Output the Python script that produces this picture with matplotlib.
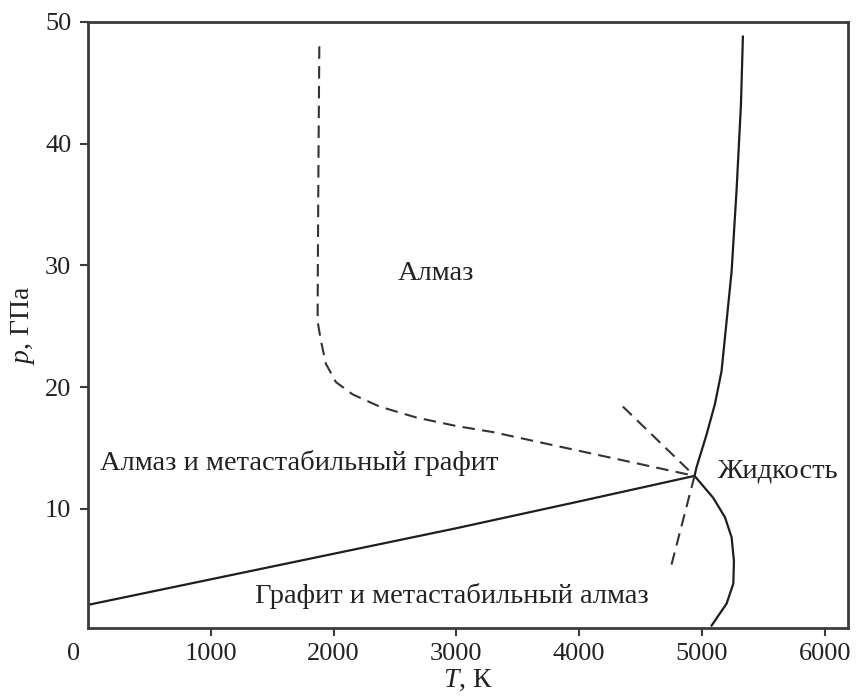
import numpy as np
import matplotlib
matplotlib.use("Agg")
import matplotlib.pyplot as plt
import matplotlib.transforms as mtransforms

plt.rcParams["font.family"] = ["Liberation Serif", "DejaVu Serif"]
plt.rcParams["mathtext.fontset"] = "custom"
plt.rcParams["mathtext.it"] = "Liberation Serif:italic"
plt.rcParams["mathtext.rm"] = "Liberation Serif"

# ── phase boundaries (T in K, p in GPa) ─────────────────────────────────────
# graphite / diamond equilibrium line up to the triple point
gd_T = [0, 1000, 2000, 3000, 4000, 4940]
gd_p = [2.1, 4.2, 6.3, 8.4, 10.6, 12.7]

# diamond melting line (above triple point)
dm_T = [4940, 4956, 5038, 5106, 5160, 5201, 5242, 5283, 5318, 5334]
dm_p = [12.7, 13.4, 16.1, 18.6, 21.3, 25.4, 29.5, 36.3, 43.2, 48.8]

# graphite melting line (below triple point)
gm_T = [4940, 5092, 5188, 5242, 5261, 5256, 5201, 5133, 5079]
gm_p = [12.7, 10.9, 9.3, 7.65, 5.7, 3.85, 2.2, 1.2, 0.4]

# metastable extensions of melting lines
ext_up_T = [4356, 4940]
ext_up_p = [18.4, 12.7]
ext_dn_T = [4940, 4747]
ext_dn_p = [12.7, 5.2]

# kinetic boundary of metastable graphite (dashed)
kin_T = [1884, 1878, 1872, 1870, 1897, 1938, 2020, 2155, 2374, 2673, 2999, 3297, 4940]
kin_p = [48.0, 40.0, 30.0, 25.4, 23.8, 21.9, 20.4, 19.4, 18.4, 17.5, 16.8, 16.3, 12.7]

x_ticks = [0, 1000, 2000, 3000, 4000, 5000, 6000]
y_ticks = [10, 20, 30, 40, 50]

LINE = "#1e1e1e"
SPINE = "#3c3c3c"
TXT = "#222222"

fig = plt.figure(figsize=(8.57, 6.96), dpi=100)
ax = fig.add_axes([0.1027, 0.0977, 0.8868, 0.8707])

ax.plot(gd_T, gd_p, color=LINE, lw=1.6, solid_joinstyle="round")
ax.plot(dm_T, dm_p, color=LINE, lw=1.6, solid_joinstyle="round")
ax.plot(gm_T, gm_p, color=LINE, lw=1.6, solid_joinstyle="round")
for tt, pp in [(ext_up_T, ext_up_p), (ext_dn_T, ext_dn_p), (kin_T, kin_p)]:
    ax.plot(tt, pp, color="#333333", lw=1.5, dashes=(6, 3.5))

fs = 20.5
ax.text(2838, 29.3, "Алмаз", fontsize=fs, ha="center", va="center", color=TXT)
ax.text(1721, 13.8, "Алмаз и метастабильный графит", fontsize=fs,
        ha="center", va="center", color=TXT)
ax.text(5615, 13.1, "Жидкость", fontsize=fs, ha="center", va="center", color=TXT)
ax.text(2961, 2.8, "Графит и метастабильный алмаз", fontsize=fs,
        ha="center", va="center", color=TXT)

ax.set_xlim(0, 6190)
ax.set_ylim(0.2, 50)
ax.set_xticks(x_ticks)
ax.set_yticks(y_ticks)
ax.tick_params(direction="out", length=6, width=1.5, color=SPINE,
               labelsize=19, labelcolor=TXT)
ax.tick_params(axis="x", pad=5)
ax.tick_params(axis="y", pad=6)
for s in ax.spines.values():
    s.set_color(SPINE)
    s.set_linewidth(2)

# the "0" label sits a bit left of the corner
lab0 = ax.get_xticklabels()[0]
lab0.set_transform(lab0.get_transform() +
                   mtransforms.ScaledTranslation(-0.14, 0, fig.dpi_scale_trans))
ax.xaxis.get_major_ticks()[0].tick1line.set_visible(False)

ax.set_xlabel(r"$T$, К", fontsize=20, color=TXT, labelpad=2)
ax.set_ylabel(r"$p$, ГПа", fontsize=20, color=TXT, labelpad=6)

fig.savefig("out.png", dpi=100)
